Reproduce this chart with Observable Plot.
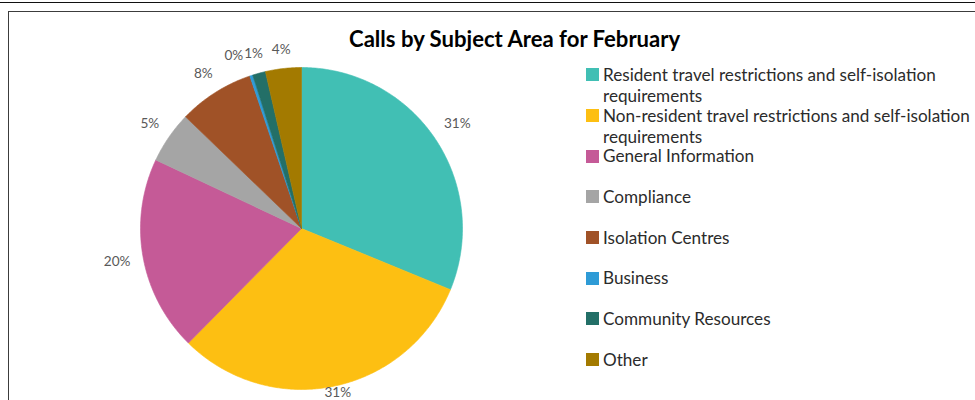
<!DOCTYPE html>
<html>
<head>
<meta charset="utf-8">
<script src="https://cdn.jsdelivr.net/npm/d3@7"></script>
<script src="https://cdn.jsdelivr.net/npm/@observablehq/plot@0.6"></script>
<style>
  body { margin: 0; background: #fff; }
  #wrap { position: relative; width: 975px; height: 400px; overflow: hidden; font-family: Lato, sans-serif; background: #fff; }
  #topline { position: absolute; left: 0; top: 2px; width: 975px; height: 0; border-top: 1.5px solid #111; }
  #frame { position: absolute; left: 8px; top: 11px; width: 1200px; height: 700px; border: 1px solid #3c3c3c; }
  #chart { position: absolute; left: 0; top: 0; }
  #title { position: absolute; font-weight: bold; color: #000; white-space: nowrap; line-height: 1.2; }
  .item { position: absolute; left: 586px; color: #2b2b2b; }
  .sw { position: absolute; left: 0; width: 13px; height: 13px; }
  .tx { position: absolute; left: 17px; white-space: nowrap; }
</style>
</head>
<body>
<div id="wrap">
  <div id="topline"></div>
  <div id="frame"></div>
  <div id="chart"></div>
  <div id="title"></div>
  <div id="legend"></div>
</div>
<script>
// ---- data ----
const titleText = "Calls by Subject Area for February";
const categories = [
  "Resident travel restrictions and self-isolation requirements",
  "Non-resident travel restrictions and self-isolation requirements",
  "General Information",
  "Compliance",
  "Isolation Centres",
  "Business",
  "Community Resources",
  "Other"
];
const values = [31.2, 31.2, 19.6, 5.2, 7.6, 0.3, 1.3, 3.6];
const colors = ["#41BFB4", "#FDBF12", "#C55A97", "#A5A5A5", "#A05227", "#2E9BD6", "#236F67", "#A37A00"];

// ---- layout constants ----
const W = 975, H = 400;
const CX = 301, CY = 228, R = 161;
const FONT = "Lato";

const cv = document.createElement("canvas").getContext("2d");
function measure(text, size, weight = "normal") {
  cv.font = `${weight} ${size}px ${FONT}`;
  return cv.measureText(text).width;
}
// fit font sizes to the reference text widths
const titleSize = 20 * 333 / measure(titleText, 20, "bold");
const legendSize = 17 * 88 / measure("Compliance", 17);
const labelSize = 14 * 26.7 / measure("31%", 14);

const data = categories.map((c, i) => ({cat: c, value: values[i]}));
const total = d3.sum(values);
const arcs = d3.pie().sort(null).value(d => d.value)(data);

// slice outlines (unit circle, angle clockwise from 12 o'clock)
const pts = arcs.flatMap(a => {
  const n = Math.max(2, Math.ceil((a.endAngle - a.startAngle) / (Math.PI / 360)));
  const out = [{cat: a.data.cat, x: 0, y: 0}];
  for (let i = 0; i <= n; i++) {
    const t = a.startAngle + (a.endAngle - a.startAngle) * i / n;
    out.push({cat: a.data.cat, x: Math.sin(t), y: Math.cos(t)});
  }
  out.push({cat: a.data.cat, x: 0, y: 0});
  return out;
});

// outside-end labels
const fmt = d3.format(".0%");
const gap = 12, hh = labelSize * 0.45;
const labels = arcs.map(a => {
  const mid = (a.startAngle + a.endAngle) / 2;
  const text = fmt(a.data.value / total);
  const w = measure(text, labelSize);
  const ext = (w / 2) * Math.abs(Math.sin(mid)) + hh * Math.abs(Math.cos(mid));
  const r = R + gap + ext;
  let px = r * Math.sin(mid), py = r * Math.cos(mid);
  // keep label inside the visible chart area
  const minPy = -(H - CY) + hh + 2;
  if (py < minPy) py = minPy;
  return {text, w, px, py};
});
// resolve overlaps by pushing earlier labels leftwards
for (let i = labels.length - 2; i >= 0; i--) {
  const a = labels[i], b = labels[i + 1];
  const need = (a.w + b.w) / 2 + 1;
  if (Math.abs(a.px - b.px) < need && Math.abs(a.py - b.py) < hh * 2) {
    a.px = b.px - need;
  }
}
labels.forEach(l => { l.x = l.px / R; l.y = l.py / R; });

const chart = Plot.plot({
  width: W,
  height: H,
  margin: 0,
  style: {fontFamily: FONT, background: "transparent"},
  x: {domain: [-CX / R, (W - CX) / R], axis: null},
  y: {domain: [-(H - CY) / R, CY / R], axis: null},
  color: {domain: categories, range: colors},
  marks: [
    Plot.line(pts, {x: "x", y: "y", z: "cat", fill: "cat", stroke: "cat", strokeWidth: 0.6}),
    Plot.text(labels, {x: "x", y: "y", text: "text", fill: "#595959", fontSize: labelSize, fontFamily: FONT})
  ]
});
document.getElementById("chart").appendChild(chart);

// title
const title = document.getElementById("title");
title.textContent = titleText;
title.style.fontSize = titleSize + "px";
title.style.left = (515.5 - measure(titleText, titleSize, "bold") / 2) + "px";
title.style.top = (50 - (0.1 * titleSize + 0.987 * titleSize)) + "px";

// legend
const legend = document.getElementById("legend");
const LH = 21, maxW = W - 603;
function wrap(text) {
  const words = text.split(" ");
  const lines = [];
  let cur = "";
  for (const w of words) {
    const t = cur ? cur + " " + w : w;
    if (measure(t, legendSize) > maxW && cur) { lines.push(cur); cur = w; }
    else cur = t;
  }
  lines.push(cur);
  return lines;
}
categories.forEach((c, i) => {
  const baseline = 81 + i * 40.7;
  const item = document.createElement("div");
  item.className = "item";
  const baseOff = (LH - 1.2 * legendSize) / 2 + 0.987 * legendSize;
  item.style.top = (baseline - baseOff) + "px";
  const sw = document.createElement("div");
  sw.className = "sw";
  sw.style.background = colors[i];
  sw.style.top = (baseOff - 12.7) + "px";
  const tx = document.createElement("div");
  tx.className = "tx";
  tx.style.fontSize = legendSize + "px";
  tx.style.lineHeight = LH + "px";
  wrap(c).forEach((line, k) => {
    if (k) tx.appendChild(document.createElement("br"));
    tx.appendChild(document.createTextNode(line));
  });
  item.appendChild(sw);
  item.appendChild(tx);
  legend.appendChild(item);
});
</script>
</body>
</html>
